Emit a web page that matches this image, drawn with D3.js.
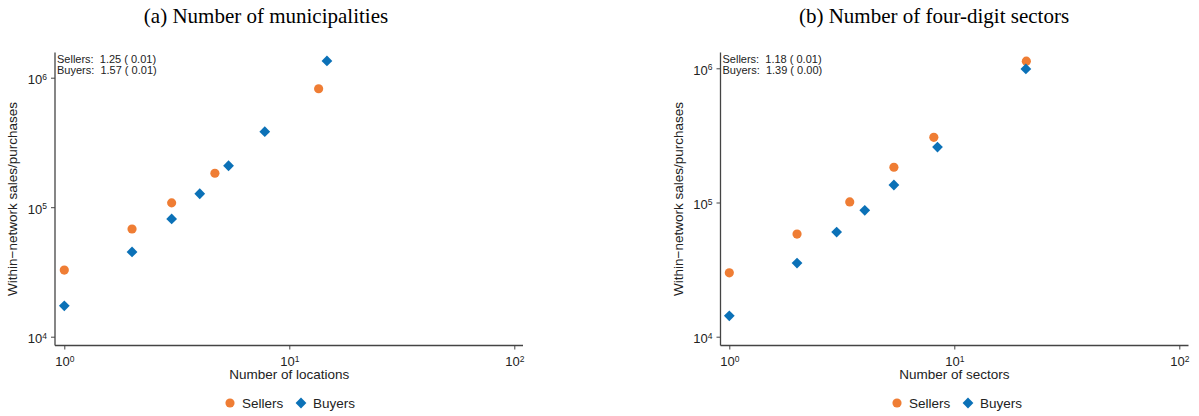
<!DOCTYPE html>
<html lang="en">
<head>
  <meta charset="UTF-8">
  <title>Within-network sales and purchases</title>
  <script src="https://d3js.org/d3.v7.min.js"></script>
  <style>
    body {
      margin: 0;
      background: #fff;
    }
    svg text {
      font-family: "Liberation Sans", Arial, sans-serif;
      fill: #222;
    }
    .title {
      font-family: "Liberation Serif", "DejaVu Serif", serif !important;
      fill: #000 !important;
    }
  </style>
</head>
<body>
  <svg id="chart" width="1199" height="416"></svg>

  <script>
    // Tick values shared by both panels.
    const xTicks = [1, 10, 100];
    const yTicks = [1e4, 1e5, 1e6];

    // Panel (a): number of municipalities.
    const sellersLoc = [[1, 32700], [2, 67900], [3, 108000], [4.67, 183000], [13.5, 822000]];
    const buyersLoc = [[1, 17300], [2, 45100], [3, 81100], [4, 127000], [5.37, 209000], [7.78, 383000], [14.7, 1346000]];
    const statsLoc = ["Sellers:  1.25 ( 0.01)", "Buyers:  1.57 ( 0.01)"];

    // Panel (b): number of four-digit sectors.
    const sellersSec = [[1, 29900], [2, 58200], [3.43, 101000], [5.39, 183000], [8.11, 306000], [20.9, 1130000]];
    const buyersSec = [[1, 14300], [2, 35400], [3, 60200], [4, 87500], [5.39, 135000], [8.42, 259000], [20.8, 989000]];
    const statsSec = ["Sellers:  1.18 ( 0.01)", "Buyers:  1.39 ( 0.00)"];

    const orange = "#ef7d34";
    const blue = "#0b71b7";

    const svg = d3.select("#chart");

    const circle = d3.symbol().type(d3.symbolCircle).size(66);
    const diamond = d3.symbol().type(d3.symbolSquare).size(58);

    function drawPanel(p) {
      const g = svg.append("g");

      const x = d3.scaleLog().domain([1, 100]).range([p.x0, p.x0 + 450]);
      const y = d3.scaleLog().domain([1e4, 1e6]).range([336.7, p.yTop]);

      // title
      g.append("text")
       .attr("class", "title")
       .attr("x", p.cx)
       .attr("y", 23)
       .attr("text-anchor", "middle")
       .attr("font-size", 21)
       .text(p.title);

      // axes lines
      g.append("line")
       .attr("x1", p.axisX).attr("x2", p.axisX)
       .attr("y1", 52.5).attr("y2", 345.5)
       .attr("stroke", "#444").attr("stroke-width", 1.3);
      g.append("line")
       .attr("x1", p.axisX).attr("x2", p.axisX + 468)
       .attr("y1", 345.5).attr("y2", 345.5)
       .attr("stroke", "#444").attr("stroke-width", 1.3);

      const supLabel = function(d) {
        const t = d3.select(this).text("10");
        t.append("tspan")
         .attr("dy", "-0.5em")
         .attr("font-size", "8.5px")
         .text(Math.round(Math.log10(d)));
      };

      const xAxis = g.append("g")
       .attr("transform", `translate(0, 345.5)`)
       .call(d3.axisBottom(x).tickValues(xTicks).tickSize(4).tickPadding(3));
      xAxis.select(".domain").remove();
      xAxis.selectAll("line").attr("stroke", "#444");
      xAxis.selectAll("text").attr("font-size", 13).attr("dy", "1.05em").each(supLabel);

      const yAxis = g.append("g")
       .attr("transform", `translate(${p.axisX}, 0)`)
       .call(d3.axisLeft(y).tickValues(yTicks).tickSize(4).tickPadding(4));
      yAxis.select(".domain").remove();
      yAxis.selectAll("line").attr("stroke", "#444");
      yAxis.selectAll("text").attr("font-size", 13).attr("dy", "0.45em").each(supLabel);

      // axis labels
      g.append("text")
       .attr("x", x(10))
       .attr("y", 379)
       .attr("text-anchor", "middle")
       .attr("font-size", 13.5)
       .text(p.xLabel);
      g.append("text")
       .attr("transform", `translate(${p.yLabelX}, 199) rotate(-90)`)
       .attr("text-anchor", "middle")
       .attr("font-size", 13.5)
       .text("Within\u2212network sales/purchases");

      // elasticity annotations
      g.selectAll(".stat")
       .data(p.stats)
       .enter().append("text")
       .attr("x", p.axisX + 2)
       .attr("y", (d, i) => 63 + i * 11)
       .attr("font-size", 11)
       .attr("xml:space", "preserve")
       .style("white-space", "pre")
       .text(d => d);

      // points
      g.selectAll(".seller")
       .data(p.sellers)
       .enter().append("path")
       .attr("d", circle)
       .attr("fill", orange)
       .attr("transform", d => `translate(${x(d[0])}, ${y(d[1])})`);
      g.selectAll(".buyer")
       .data(p.buyers)
       .enter().append("path")
       .attr("d", diamond)
       .attr("fill", blue)
       .attr("transform", d => `translate(${x(d[0])}, ${y(d[1])}) rotate(45)`);

      // legend
      const lg = g.append("g").attr("transform", `translate(${p.legendX}, 403)`);
      lg.append("path").attr("d", circle).attr("fill", orange);
      lg.append("text").attr("x", 12).attr("y", 5).attr("font-size", 13.5).text("Sellers");
      lg.append("path").attr("d", diamond).attr("fill", blue)
        .attr("transform", "translate(71, 0) rotate(45)");
      lg.append("text").attr("x", 83).attr("y", 5).attr("font-size", 13.5).text("Buyers");
    }

    drawPanel({
      title: "(a) Number of municipalities",
      cx: 266,
      x0: 64.3,
      axisX: 55,
      yTop: 77.7,
      yLabelX: 17,
      xLabel: "Number of locations",
      stats: statsLoc,
      sellers: sellersLoc,
      buyers: buyersLoc,
      legendX: 230
    });

    drawPanel({
      title: "(b) Number of four-digit sectors",
      cx: 934,
      x0: 729.3,
      axisX: 720.5,
      yTop: 68.3,
      yLabelX: 683,
      xLabel: "Number of sectors",
      stats: statsSec,
      sellers: sellersSec,
      buyers: buyersSec,
      legendX: 897
    });
  </script>
</body>
</html>
